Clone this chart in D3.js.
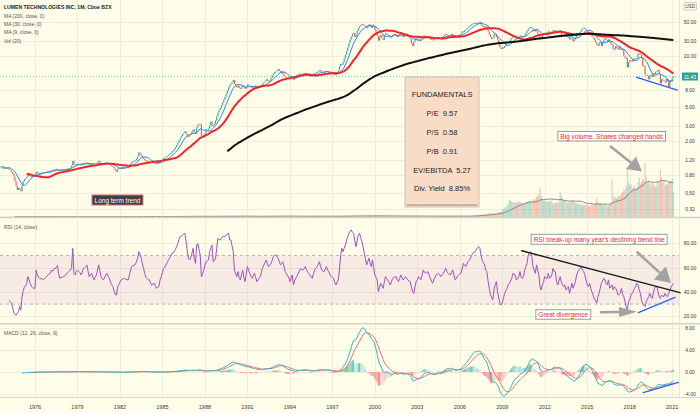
<!DOCTYPE html>
<html>
<head>
<meta charset="utf-8">
<script src="https://cdn.jsdelivr.net/npm/d3@7/dist/d3.min.js"></script>
<style>
  html,body{margin:0;padding:0;background:#fefde9;}
  svg{display:block;}
  text{font-family:"Liberation Sans",Arial,sans-serif;}
</style>
</head>
<body>
<svg id="chart" width="700" height="413"></svg>
<script>
// ================= DATA =================
const firstYear = 1973; // monthly bars, Jan 1973 .. Feb 2021
const closes = [
0.90,0.93,0.97,1.00,0.96,0.94,0.98,1.01,1.03,0.99,0.96,0.97,
0.98,0.96,0.93,0.91,0.88,0.83,0.77,0.68,0.60,0.54,0.57,0.55,
0.52,0.62,0.68,0.72,0.74,0.77,0.82,0.80,0.78,0.77,0.78,0.79,
0.80,0.88,0.86,0.85,0.85,0.86,0.85,0.86,0.87,0.87,0.88,0.89,
0.90,0.90,0.92,0.91,0.93,0.94,0.95,0.92,0.91,0.92,0.92,0.92,
0.93,0.93,0.94,0.95,0.96,0.97,0.98,1.04,1.18,1.07,1.05,1.08,
1.09,1.08,1.07,1.06,1.08,1.10,1.11,1.12,1.13,1.09,1.07,1.08,
1.09,1.06,1.05,1.07,1.09,1.13,1.18,1.12,1.08,1.07,1.09,1.10,
1.11,1.12,1.10,1.08,1.05,1.02,1.00,0.96,0.91,0.88,0.95,0.97,
0.98,0.99,1.00,1.00,1.01,1.00,0.99,0.99,1.04,1.09,1.14,1.16,
1.18,1.19,1.25,1.32,1.48,1.42,1.35,1.30,1.25,1.20,1.19,1.18,
1.17,1.15,1.13,1.14,1.15,1.12,1.10,1.11,1.12,1.11,1.16,1.18,
1.23,1.27,1.28,1.31,1.34,1.38,1.42,1.47,1.52,1.55,1.62,1.70,
1.80,1.92,2.05,2.18,2.30,2.42,2.50,2.62,2.45,2.30,2.28,2.36,
2.45,2.60,2.75,2.55,2.45,2.90,3.10,3.20,3.15,2.30,2.20,2.35,
2.50,2.65,2.72,2.80,3.10,3.40,3.00,3.10,3.20,3.50,3.90,4.30,
4.60,4.90,5.30,5.70,6.10,6.60,7.20,7.80,8.50,9.00,9.40,9.90,
10.4,9.3,8.9,8.5,8.9,8.4,8.2,8.6,9.0,8.5,8.2,8.7,
9.2,9.0,8.8,8.6,8.5,8.7,8.9,8.6,8.3,8.5,8.6,8.7,
9.1,9.5,9.8,10.1,10.6,10.2,10.0,10.4,11.0,11.8,12.3,12.8,
13.0,13.4,14.0,13.3,12.6,13.0,12.2,11.6,11.3,11.0,10.8,11.0,
10.6,11.1,11.4,10.5,11.0,11.4,11.8,12.1,12.4,12.2,12.1,12.3,
12.6,12.4,12.1,11.9,11.8,11.6,11.5,11.9,12.3,12.5,12.7,12.9,
13.2,13.6,13.1,12.8,12.7,12.6,13.0,13.3,13.0,12.8,12.6,12.5,
12.4,12.3,12.0,12.2,12.3,13.5,15.0,16.0,15.7,16.8,18.5,20.5,
22.5,25.0,28.0,31.0,33.5,36.0,37.0,33.0,35.5,39.0,42.0,44.0,
45.5,47.0,46.0,45.0,43.5,42.0,44.5,46.5,44.0,42.5,46.0,44.5,
40.0,38.0,34.0,30.0,33.0,35.0,32.0,30.5,35.0,36.5,35.5,35.0,
34.0,32.5,33.5,35.0,35.5,36.0,34.5,33.0,34.5,36.0,35.0,34.0,
33.0,34.0,35.0,34.0,33.5,33.0,31.5,28.0,26.0,29.0,31.0,32.0,
31.0,30.5,31.5,32.5,33.5,34.5,34.0,33.5,34.0,33.0,32.0,31.5,
31.0,30.5,31.5,32.0,32.5,33.0,32.5,32.0,32.5,33.0,34.0,35.0,
36.0,35.0,34.5,34.0,35.0,36.0,33.5,32.5,33.0,34.0,34.5,35.0,
35.5,36.0,38.5,38.0,39.5,40.5,41.5,43.0,44.0,45.5,46.5,47.5,
48.0,48.5,47.0,48.0,49.0,50.0,46.0,44.5,44.0,43.0,44.0,41.5,
38.5,35.5,33.0,31.5,32.0,35.5,36.0,33.0,31.0,28.0,25.0,24.0,
25.0,24.5,26.0,27.5,28.0,29.0,29.5,31.0,32.5,34.0,33.5,33.0,
32.0,32.5,33.5,34.5,33.5,33.0,34.0,35.0,37.0,39.0,41.5,42.5,
43.5,42.0,39.5,38.5,40.5,39.0,36.5,34.0,31.5,33.0,34.5,36.0,
37.0,36.5,37.0,38.5,37.5,37.8,38.5,40.0,39.5,39.2,38.8,38.0,
38.5,39.5,34.0,34.5,35.5,33.5,34.0,33.0,33.5,31.0,32.0,31.8,
29.5,31.0,32.5,35.0,36.5,36.0,38.0,40.5,41.5,42.5,41.0,40.0,
38.5,37.0,38.0,35.5,33.5,32.5,30.5,28.5,27.0,26.0,28.5,29.0,
26.0,28.5,31.0,32.0,30.5,29.0,31.0,29.0,27.4,26.8,23.8,24.0,
25.8,24.4,23.6,25.7,23.7,23.9,23.3,19.7,18.9,19.0,14.6,16.7,
17.8,17.6,17.1,18.5,18.1,18.6,18.7,21.2,21.2,20.6,18.8,15.2,
15.3,12.0,12.0,11.7,10.6,11.8,12.1,11.3,12.5,12.2,13.0,13.2,
13.7,12.1,9.5,10.6,10.3,10.0,9.7,10.7,10.1,8.6,10.4,10.2,
10.9,11.43
];
const volumes = [ // millions of shares per month
3,4,3,2,3,4,3,3,2,3,4,3,
3,3,4,4,5,5,4,6,5,4,3,4,
4,3,4,3,3,4,3,3,4,3,3,4,
3,4,3,3,4,3,3,4,3,4,3,3,
4,3,3,4,3,3,4,3,3,4,3,4,
3,4,3,3,4,3,4,6,7,5,4,4,
4,3,4,4,3,4,4,3,4,4,3,4,
4,4,3,4,4,5,5,4,4,3,4,4,
4,3,4,4,4,5,4,5,5,4,4,4,
4,4,5,4,4,4,5,4,5,5,6,6,
6,5,6,7,7,6,6,5,5,5,5,5,
5,5,4,5,5,4,5,5,5,5,6,5,
6,5,6,6,5,6,6,7,6,6,7,7,
8,8,9,9,8,9,8,9,8,7,7,8,
8,9,9,8,8,9,9,8,8,12,9,8,
8,7,8,8,8,9,8,8,8,9,9,9,
9,9,10,10,9,10,10,11,10,10,11,10,
11,10,10,9,10,9,9,10,10,9,9,9,
9,9,8,9,9,9,8,8,9,9,9,9,
9,10,10,10,10,10,10,11,11,11,11,11,
11,11,10,11,10,10,10,10,10,10,9,10,
10,10,10,9,10,10,9,9,10,10,9,10,
9,10,9,9,10,9,9,10,10,9,10,10,
10,9,10,10,9,9,10,10,9,9,10,9,
9,10,9,10,10,11,12,12,11,12,12,13,
13,13,14,14,13,14,13,15,14,13,13,13,
14,13,13,14,13,12,13,13,12,13,12,14,
15,15,16,16,14,14,13,13,13,12,12,13,
12,12,12,12,11,11,11,11,12,11,11,11,
12,11,11,11,12,12,13,14,12,12,11,11,
11,11,11,11,10,10,10,10,10,10,10,10,
10,11,10,9,10,10,11,10,10,9,10,11,
11,10,10,10,11,10,12,11,10,10,10,10,
10,11,11,11,12,11,11,12,12,13,13,14,
16,18,22,20,24,26,30,34,32,30,36,38,
42,40,46,44,40,42,48,46,52,68,62,58,
90,100,110,120,140,160,210,200,190,180,170,180,
180,170,190,180,175,170,160,170,180,175,190,200,
190,180,200,220,210,240,260,270,350,260,220,200,
200,190,180,190,180,200,190,170,160,170,180,170,
180,300,260,220,200,190,180,170,170,180,190,180,
200,180,170,160,170,150,160,150,140,150,140,150,
150,140,130,140,150,140,160,170,230,180,160,170,
160,150,140,140,150,130,140,150,170,446,260,220,
240,230,250,260,250,280,300,340,320,380,590,420,
380,400,360,350,380,340,360,420,480,400,420,460,
440,650,480,420,440,400,380,420,400,380,360,390,
420,440,565,470,420,440,380,400,390,420,440,430,
460,300
];
const rsiFirstIndex = 14; // RSI(14) starts 14 months after the first bar
const rsiValues = [
33,32,31,27,23,21.6,21,22.5,24,28,
25,36,41,44,45,47,52.6,50,47,44.4,
43.5,43,43,58,54,52,51,50.7,51,50,
51.2,52,53,54,55,55.3,58,57,59,59.4,
60,61.6,55,51.2,52,52,52.6,53,54,55.3,
56,57,58,60,75.9,55,54,57,58,57,
56,54,56,59.4,60,61,62.2,57,52.6,54,
55.3,52,49.9,52,54,58,62.2,57,52.6,51,
49.9,52,54,55.3,53,51.2,48,46,44.4,41,
38,37.5,44,46,48,49.9,50.5,51,51.2,50.5,
50,49.9,54,58,60.8,61.5,62,62.5,64.9,68,
73.1,71,67.7,63,59.4,55,52,51,50,49.9,
47,45.8,46.5,47.1,45,43,44,44.4,50,52.6,
56,59.4,60.5,62.2,64,66,67.7,69.5,71.8,72,
73.1,75,77.2,80,83,85.5,86,86.8,87.5,88.2,
82,74,67.7,66.3,68,71.8,75.9,67,63.5,78.6,
80,75,70.4,52.6,55,58,62,64.9,65.5,66.3,
73.1,76,78.6,64.9,66,67.7,76,84.1,83,82.7,
84,85.5,85.5,85.5,86.8,87.5,88.2,82.7,82.7,78,
73.1,58,55,52.6,56.7,52,49.9,54,58,52,
48.5,55,60.8,58,55.3,53,51.2,53,55.3,52,
48.5,50,51.5,52.6,57,60,62.2,64,66.3,63,
60.8,62,63.5,66,69,70,70.4,69,67.7,65,
62.2,63.5,64.9,61,57,55.3,53,52.6,48.5,51,
54,45.8,49,51.2,53,55.3,57,59.4,58.5,58,
59,60.8,58.5,56.7,55,54,52.5,51.2,55,58,
59.5,60.8,62.5,64.9,61,58,57,56.7,59,60.8,
58,56.7,54,52.6,52,51.2,48,45.8,48,49.9,
58,70,75.9,73.1,76,78.6,82,85.5,88,90,
91,89,88.2,82,77.2,82,86.8,88.2,85,81.4,
77.2,72,67.7,62.2,65,67.7,64,60.8,66.3,60,
54,52,49.9,40.3,44,47.1,45,43,48,52.6,
51,49.9,48,45.8,48,51.2,52,52.3,52.6,50,
48.5,51,54,52,49.9,51,52.6,51,49.9,49,
48.5,44,40,38.9,44,48.5,50,52.6,51,49.9,
54,58,56.5,55.3,56,56.7,54,51.2,49,47.1,
50,52,54,55,55.3,54,52.6,54,55.3,57,
59.4,57,55.3,54.5,54,56,58,54,50,51,
53,54,55,55.3,59,63.5,62,60.8,63,64.9,
66,67.7,70,71.8,72.5,73.1,75,76.5,77.2,75.9,
70,66,64,62.2,58,56.7,48.5,43,38,34.8,
33.4,42,45.8,48.5,40,35,30.7,29.3,31,34.8,
38.9,41,43,45.8,47.1,49,51.2,55.3,54.5,54,
49.9,51,52.6,56.7,52,51.2,52.6,58,61,63.5,
70.4,72,73.1,69,60.8,58,55.3,62.2,58,54,
44.4,41.6,46,48.5,52.6,51.5,51.2,55.3,51.2,52,
54,59.4,57,56.7,48.5,45.8,49,52.6,48.5,46,
44.4,45.8,41.6,43,44.4,38.9,43,47.1,43,46,
48.5,54,56.7,58,59.4,60.8,58,56.7,54,49.9,
46,44.4,47.1,43,40,37.5,34,33.4,30.7,36,
38.9,43,47.1,49,51.2,49.9,47,45.8,49.9,43,
44,45.8,41.6,44.4,43,41.6,37.5,38,38.9,43,
38,36.2,32,28,25.2,32,34,37.5,39,40.3,
43,44.4,47.1,45.8,42,38.9,33.4,30,29.3,28,
32,34,36.2,38.9,36,34.8,38.9,43,44,44.4,
40.3,36,34.8,37.5,36.5,36.2,38.9,37,36.2,38.9,
41.6,44,45.5,47
];
const priceTicks = [50, 30, 20, 8, 5, 3, 2, 1.2, 0.8, 0.5, 0.32];
const rsiTicks = [80, 60, 40, 20];
const macdTicks = [8, 4, 0, -4];
const yearTicks = [1976,1979,1982,1985,1988,1991,1994,1997,2000,2003,2006,2009,2012,2015,2018,2021];
const legendTitle = "LUMEN TECHNOLOGIES INC, 1M, Cboe BZX";
const legendLines = ["MA (200, close, 0)", "MA (30, close, 0)", "MA (9, close, 0)", "Vol (20)"];
const fundamentalsTitle = "FUNDAMENTALS";
const fundamentalsLabels = ["P/E", "P/S", "P/B", "EV/EBITDA", "Div. Yield"];
const fundamentalsValues = ["9.57", "0.58", "0.91", "5.27", "8.85%"];
const lastPrice = 11.43;
// drawings, anchored in data space: [monthIndex, value]
const noteLongTerm = {text: "Long term trend", at: [105.9, 0.411]};
const noteVolume = {text: "Big volume. Shares changed hands", at: [524.7, 2.29]};
const noteRsi = {text: "RSI break-up many year's declining trend line", at: [514.1, 83.3]};
const noteDiv = {text: "Great divergence", at: [483.7, 21.5]};
const fundBox = {from: [349.6, 11.28], to: [412.3, 0.340]};
const trendPrice = [[545.9, 11.2], [580.3, 7.94]];
const trendRsiDown = [[448.5, 73.9], [582.6, 39.4]];
const trendRsiUp = [[547.3, 23], [578.4, 35.6]];
const trendMacd = [[551.5, -3.71], [581.2, -1.85]];
const arrowVolume = [[523.3, 1.76], [550.4, 0.885]];
const arrowRsi = [[545.9, 73.1], [575, 47.4]];
const arrowDiv = [[514.8, 23.3], [546.2, 23.8]];

// ================= SCALES =================
const W = 700, H = 413, PR = 679;
const PANEL = {main: [0, 217], rsi: [219, 323], macd: [325, 397]};
const x = d3.scaleLinear().domain([0, 576]).range([-7.48, 672.2]);
const yP = d3.scaleLog().domain([50, 0.32]).range([21.7, 209.3]);
const yV = d3.scaleLinear().domain([0, 700]).range([217, 159]);
const yR = d3.scaleLinear().domain([20, 80]).range([316.3, 243.3]);
const yM = d3.scaleLinear().domain([-4, 8]).range([394.3, 327.5]);
const yearIdx = y => (y - firstYear) * 12;

// ================= INDICATORS =================
const bars = closes.map((c, i) => ({i, c, o: i ? closes[i - 1] : c, v: volumes[i]}));
bars.forEach(b => b.up = b.c >= b.o);
function sma(arr, len) { return arr.map((_, i) => i < len - 1 ? null : d3.mean(arr.slice(i - len + 1, i + 1))); }
function ema(arr, len) {
  const out = arr.map(() => null), k = 2 / (len + 1);
  const start = arr.findIndex(v => v != null);
  const first = start + len - 1;
  if (start < 0 || first >= arr.length) return out;
  let prev = d3.mean(arr.slice(start, first + 1)); out[first] = prev;
  for (let i = first + 1; i < arr.length; i++) { prev = arr[i] * k + prev * (1 - k); out[i] = prev; }
  return out;
}
const ma200 = sma(closes, 200), ma30 = sma(closes, 30), ma9 = sma(closes, 9);
const volMa = sma(volumes, 20);
const e12 = ema(closes, 12), e26 = ema(closes, 26);
const macd = closes.map((_, i) => e26[i] == null ? null : e12[i] - e26[i]);
const signal = ema(macd, 9);
const hist = macd.map((m, i) => signal[i] == null ? null : m - signal[i]);
const rsi = rsiValues.map((v, k) => [rsiFirstIndex + k, v]);

// ================= DRAW =================
const svg = d3.select('#chart');
svg.append('rect').attr('width', W).attr('height', H).attr('fill', '#fefde9');
const defs = svg.append('defs');
Object.entries(PANEL).forEach(([k, [a, b]]) => {
  defs.append('clipPath').attr('id', 'clip-' + k).append('rect')
    .attr('x', 0).attr('y', a).attr('width', PR).attr('height', b - a);
});
const grid = svg.append('g').attr('stroke', '#efeed9').attr('stroke-width', 1);
Object.values(PANEL).forEach(([a, b]) => {
  yearTicks.forEach(t => grid.append('line').attr('x1', Math.round(x(yearIdx(t))) + 0.5).attr('x2', Math.round(x(yearIdx(t))) + 0.5).attr('y1', a).attr('y2', b));
});
priceTicks.forEach(p => grid.append('line').attr('x1', 0).attr('x2', PR).attr('y1', Math.round(yP(p)) + 0.5).attr('y2', Math.round(yP(p)) + 0.5));
rsiTicks.forEach(p => grid.append('line').attr('x1', 0).attr('x2', PR).attr('y1', Math.round(yR(p)) + 0.5).attr('y2', Math.round(yR(p)) + 0.5));
macdTicks.forEach(p => grid.append('line').attr('x1', 0).attr('x2', PR).attr('y1', Math.round(yM(p)) + 0.5).attr('y2', Math.round(yM(p)) + 0.5));

// ---- main panel
const gMain = svg.append('g').attr('clip-path', 'url(#clip-main)');
gMain.append('g').selectAll('rect').data(bars).join('rect')
  .attr('x', d => x(d.i) - 0.5).attr('width', 1)
  .attr('y', d => yV(d.v)).attr('height', d => 217 - yV(d.v))
  .attr('fill', d => d.up ? 'rgba(38,166,154,0.38)' : 'rgba(239,83,80,0.38)');
const lineFn = (yf) => d3.line().defined(d => d[1] != null).x(d => x(d[0])).y(d => yf(d[1]));
gMain.append('path').datum(volMa.map((v, i) => [i, v])).attr('d', lineFn(yV))
  .attr('fill', 'none').attr('stroke', '#858585').attr('stroke-width', 1);
gMain.append('g').selectAll('rect').data(bars).join('rect')
  .attr('x', d => x(d.i) - 0.55).attr('width', 1.1)
  .attr('y', d => Math.min(yP(d.o), yP(d.c)))
  .attr('height', d => Math.max(1, Math.abs(yP(d.o) - yP(d.c))))
  .attr('fill', d => d.up ? '#26a69a' : '#ef5350');
gMain.append('line').attr('x1', 0).attr('x2', PR).attr('y1', yP(lastPrice)).attr('y2', yP(lastPrice))
  .attr('stroke', '#26a69a').attr('stroke-dasharray', '1,2').attr('opacity', 0.6);
gMain.append('path').datum(ma9.map((v, i) => [i, v])).attr('d', lineFn(yP)).attr('fill', 'none').attr('stroke', '#2f7df6').attr('stroke-width', 1);
gMain.append('path').datum(ma30.map((v, i) => [i, v])).attr('d', lineFn(yP)).attr('fill', 'none').attr('stroke', '#f4232b').attr('stroke-width', 2);
gMain.append('path').datum(ma200.map((v, i) => [i, v])).attr('d', lineFn(yP)).attr('fill', 'none').attr('stroke', '#111').attr('stroke-width', 2);

// ---- RSI panel
const gR = svg.append('g').attr('clip-path', 'url(#clip-rsi)');
gR.append('rect').attr('x', 0).attr('width', PR).attr('y', yR(70)).attr('height', yR(30) - yR(70)).attr('fill', 'rgba(156,39,176,0.08)');
[70, 30].forEach(v => gR.append('line').attr('x1', 0).attr('x2', PR).attr('y1', yR(v)).attr('y2', yR(v))
  .attr('stroke', '#b9b4be').attr('stroke-dasharray', '3,3'));
gR.append('path').datum(rsi).attr('d', lineFn(yR)).attr('fill', 'none').attr('stroke', '#a24fc2').attr('stroke-width', 1);

// ---- MACD panel
const gM = svg.append('g').attr('clip-path', 'url(#clip-macd)');
gM.append('g').selectAll('rect').data(hist.map((h, i) => ({i, h, p: i ? hist[i - 1] : null})).filter(d => d.h != null)).join('rect')
  .attr('x', d => x(d.i) - 0.5).attr('width', 1)
  .attr('y', d => Math.min(yM(0), yM(d.h))).attr('height', d => Math.abs(yM(d.h) - yM(0)))
  .attr('fill', d => d.h >= 0 ? (d.p == null || d.h >= d.p ? '#6cc5bb' : '#b6e0da') : (d.p == null || d.h < d.p ? '#f28b88' : '#f9c9c7'));
gM.append('path').datum(signal.map((v, i) => [i, v])).attr('d', lineFn(yM)).attr('fill', 'none').attr('stroke', '#f4705f').attr('stroke-width', 1);
gM.append('path').datum(macd.map((v, i) => [i, v])).attr('d', lineFn(yM)).attr('fill', 'none').attr('stroke', '#2bb5c6').attr('stroke-width', 1);

// ---- separators & borders
[[217.5, 1.6], [323.8, 1.6]].forEach(([y, w]) => svg.append('line').attr('x1', 0).attr('x2', W).attr('y1', y).attr('y2', y).attr('stroke', '#d3d2c6').attr('stroke-width', w));
svg.append('line').attr('x1', 0).attr('x2', W).attr('y1', 397.5).attr('y2', 397.5).attr('stroke', '#d8d7cc');
svg.append('line').attr('x1', PR + 0.5).attr('x2', PR + 0.5).attr('y1', 0).attr('y2', 397).attr('stroke', '#e6e5d6');

// ---- drawings
const dr = svg.append('g');
function seg(points, xf, yf, color, w) {
  dr.append('line').attr('x1', xf(points[0][0])).attr('y1', yf(points[0][1]))
    .attr('x2', xf(points[1][0])).attr('y2', yf(points[1][1]))
    .attr('stroke', color).attr('stroke-width', w).attr('stroke-linecap', 'round');
}
seg(trendPrice, x, yP, '#2962ff', 1.3);
seg(trendRsiDown, x, yR, '#1b1b1b', 1.4);
seg(trendRsiUp, x, yR, '#2962ff', 1.3);
seg(trendMacd, x, yM, '#2962ff', 1.3);
function arrow(points, yf, hl, hw) {
  const x1 = x(points[0][0]), y1 = yf(points[0][1]), x2 = x(points[1][0]), y2 = yf(points[1][1]);
  const L = Math.hypot(x2 - x1, y2 - y1), ux = (x2 - x1) / L, uy = (y2 - y1) / L;
  const bx = x2 - ux * hl, by = y2 - uy * hl;
  dr.append('line').attr('x1', x1).attr('y1', y1).attr('x2', bx).attr('y2', by).attr('stroke', '#a3a3a3').attr('stroke-width', 2.6);
  dr.append('path').attr('d', `M${x2},${y2}L${bx - uy * hw},${by + ux * hw}L${bx + uy * hw},${by - ux * hw}Z`).attr('fill', '#a3a3a3');
}
arrow(arrowVolume, yP, 14, 8);
arrow(arrowRsi, yR, 15, 9);
arrow(arrowDiv, yR, 18, 5);
function labelBox(cx, cy, text, o) {
  const g = dr.append('g');
  const t = g.append('text').attr('x', cx).attr('y', cy).attr('text-anchor', 'middle').attr('dominant-baseline', 'central')
    .attr('font-size', o.fs).attr('fill', o.color).attr('font-weight', o.fw || 'normal').text(text);
  const w = t.node().getComputedTextLength();
  g.insert('rect', () => t.node()).attr('x', cx - w / 2 - o.px).attr('y', cy - o.h / 2).attr('width', w + 2 * o.px).attr('height', o.h)
    .attr('fill', o.fill).attr('stroke', o.stroke).attr('stroke-width', 1);
}
labelBox(x(noteLongTerm.at[0]), yP(noteLongTerm.at[1]), noteLongTerm.text, {fs: 6.5, color: '#fff', fill: '#3e3e44', stroke: '#d96a6a', px: 2.5, h: 10});
labelBox(x(noteVolume.at[0]), yP(noteVolume.at[1]), noteVolume.text, {fs: 6.5, color: '#ee2a2a', fill: '#fff', stroke: '#9a9a9a', px: 2.5, h: 9.5});
labelBox(x(noteRsi.at[0]), yR(noteRsi.at[1]), noteRsi.text, {fs: 6.5, color: '#ee2a2a', fill: '#fff', stroke: '#9a9a9a', px: 2.5, h: 10});
labelBox(x(noteDiv.at[0]), yR(noteDiv.at[1]), noteDiv.text, {fs: 6.5, color: '#ee2a2a', fill: '#fff', stroke: '#9a9a9a', px: 2.5, h: 9.5});

// fundamentals box
const fx0 = x(fundBox.from[0]), fy0 = yP(fundBox.from[1]), fx1 = x(fundBox.to[0]), fy1 = yP(fundBox.to[1]);
dr.append('rect').attr('x', fx0).attr('y', fy0).attr('width', fx1 - fx0).attr('height', fy1 - fy0).attr('fill', '#f9dcc6').attr('stroke', '#cbc3b8');
dr.append('line').attr('x1', fx0 + 1.5).attr('x2', fx1 - 1.5).attr('y1', fy1 - 2).attr('y2', fy1 - 2).attr('stroke', '#8f8a86').attr('stroke-width', 1);
const fcx = (fx0 + fx1) / 2;
dr.append('text').attr('x', fcx).attr('y', fy0 + 18).attr('text-anchor', 'middle').attr('dominant-baseline', 'central')
  .attr('font-size', 7.5).attr('fill', '#1d1d1d').text(fundamentalsTitle);
fundamentalsLabels.forEach((l, k) => {
  dr.append('text').attr('x', fcx).attr('y', fy0 + 37 + k * 18.75).attr('text-anchor', 'middle').attr('dominant-baseline', 'central')
    .attr('font-size', 7.5).attr('fill', '#1d1d1d').style('white-space', 'pre').text(l + '  ' + fundamentalsValues[k]);
});

// ---- legends
const lg = svg.append('g');
lg.append('text').attr('x', 4).attr('y', 8.6).attr('font-size', 5.1).attr('font-weight', 'bold').attr('fill', '#222').text(legendTitle);
legendLines.forEach((t, k) => lg.append('text').attr('x', 4).attr('y', 17.5 + k * 8.45).attr('font-size', 5).attr('fill', '#555').text(t));
lg.append('text').attr('x', 4).attr('y', 229).attr('font-size', 5).attr('fill', '#555').text('RSI (14, close)');
lg.append('text').attr('x', 4).attr('y', 334.5).attr('font-size', 5).attr('fill', '#555').text('MACD (12, 26, close, 9)');

// ---- axes labels
const ax = svg.append('g').attr('font-size', 5).attr('fill', '#3a3a3a').attr('text-anchor', 'middle').attr('dominant-baseline', 'central');
priceTicks.forEach(p => ax.append('text').attr('x', 690).attr('y', yP(p)).text(p.toFixed(2)));
rsiTicks.forEach(v => ax.append('text').attr('x', 690).attr('y', yR(v)).text(v.toFixed(2)));
macdTicks.forEach(v => ax.append('text').attr('x', 690).attr('y', yM(v)).text(v.toFixed(2)));
yearTicks.forEach(t => ax.append('text').attr('x', x(yearIdx(t))).attr('y', 406.5).attr('font-size', 5.5).text(t));
svg.append('rect').attr('x', 684).attr('y', 2.5).attr('width', 12.5).attr('height', 7.5).attr('fill', '#fefde9').attr('stroke', '#cfcfc4').attr('rx', 1);
svg.append('text').attr('x', 690.2).attr('y', 6.4).attr('font-size', 4.8).attr('fill', '#3a3a3a').attr('text-anchor', 'middle').attr('dominant-baseline', 'central').text('USD');
svg.append('rect').attr('x', 682).attr('y', yP(lastPrice) - 4).attr('width', 16).attr('height', 8).attr('fill', '#26a69a');
svg.append('text').attr('x', 690).attr('y', yP(lastPrice)).attr('font-size', 5).attr('fill', '#fff').attr('text-anchor', 'middle').attr('dominant-baseline', 'central').text(lastPrice.toFixed(2));
</script>
</body>
</html>
